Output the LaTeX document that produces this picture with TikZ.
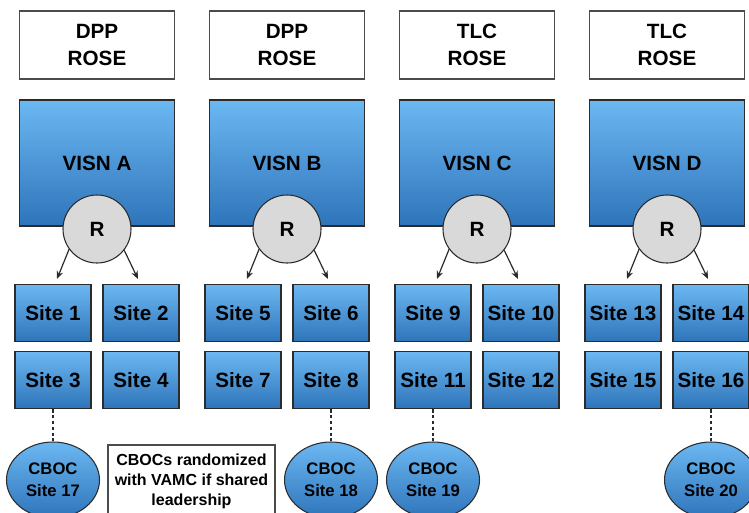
\documentclass[tikz,border=0pt]{standalone}
\usepackage{fontspec}
\setmainfont{Liberation Sans}
\usetikzlibrary{shapes.geometric,arrows.meta}

\definecolor{boxtop}{HTML}{6CB8F2}
\definecolor{boxbot}{HTML}{2E74BA}
\definecolor{rgray}{HTML}{D9D9D9}
\definecolor{edgegray}{HTML}{2B2B2B}

\tikzset{
  rosebox/.style={draw=edgegray!85, line width=0.9pt, fill=white, minimum width=116.25pt, minimum height=51pt, align=center, font=\fontsize{15.5}{20}\selectfont\bfseries},
  visnbox/.style={draw=edgegray, line width=0.8pt, top color=boxtop, bottom color=boxbot, minimum width=116.25pt, minimum height=94.5pt, font=\fontsize{15.5}{20}\selectfont\bfseries},
  rnode/.style={circle, draw=edgegray, line width=0.8pt, fill=rgray, minimum size=51pt, inner sep=0pt, font=\fontsize{15.5}{20}\selectfont\bfseries},
  sitebox/.style={draw=edgegray, line width=0.8pt, top color=boxtop, bottom color=boxbot, minimum width=57pt, minimum height=42.75pt, inner sep=0pt, font=\fontsize{15.5}{20}\selectfont\bfseries},
  cboc/.style={ellipse, draw=edgegray, line width=0.8pt, top color=boxtop, bottom color=boxbot, minimum width=69.75pt, minimum height=57pt, inner sep=0pt, align=center, font=\fontsize{12.5}{16.3}\selectfont\bfseries},
  notebox/.style={draw=edgegray!85, line width=0.8pt, fill=white, minimum width=125.25pt, minimum height=54pt, align=center, font=\fontsize{12}{15}\selectfont\bfseries},
  randarrow/.style={-{Stealth[length=6pt,width=5pt]}, line width=0.9pt, draw=edgegray},
  dotlink/.style={line width=1.6pt, dash pattern=on 2.6pt off 1.8pt, draw=edgegray},
}

\begin{document}
\begin{tikzpicture}[x=0.75pt, y=-0.75pt]
  \useasboundingbox (0,0) rectangle (749,512);
  \clip (0,0) rectangle (749,512);

  % top row
  \node[rosebox] (roseA) at (97,45) {DPP\\ROSE};
  \node[rosebox] (roseB) at (287,45) {DPP\\ROSE};
  \node[rosebox] (roseC) at (477,45) {TLC\\ROSE};
  \node[rosebox] (roseD) at (667,45) {TLC\\ROSE};

  % networks
  \node[visnbox] (visnA) at (97,163) {VISN A};
  \node[visnbox] (visnB) at (287,163) {VISN B};
  \node[visnbox] (visnC) at (477,163) {VISN C};
  \node[visnbox] (visnD) at (667,163) {VISN D};

  \node[rnode] (rA) at (97,229) {R};
  \node[rnode] (rB) at (287,229) {R};
  \node[rnode] (rC) at (477,229) {R};
  \node[rnode] (rD) at (667,229) {R};

  % sites
  \node[sitebox] (s1) at (53,313) {Site 1};
  \node[sitebox] (s2) at (141,313) {Site 2};
  \node[sitebox] (s3) at (53,380) {Site 3};
  \node[sitebox] (s4) at (141,380) {Site 4};
  \node[sitebox] (s5) at (243,313) {Site 5};
  \node[sitebox] (s6) at (331,313) {Site 6};
  \node[sitebox] (s7) at (243,380) {Site 7};
  \node[sitebox] (s8) at (331,380) {Site 8};
  \node[sitebox] (s9) at (433,313) {Site 9};
  \node[sitebox] (s10) at (521,313) {Site 10};
  \node[sitebox] (s11) at (433,380) {Site 11};
  \node[sitebox] (s12) at (521,380) {Site 12};
  \node[sitebox] (s13) at (623,313) {Site 13};
  \node[sitebox] (s14) at (711,313) {Site 14};
  \node[sitebox] (s15) at (623,380) {Site 15};
  \node[sitebox] (s16) at (711,380) {Site 16};

  % randomization arrows
  \draw[randarrow] (rA.216) -- ([xshift=3pt,yshift=3.75pt]s1.north);
  \draw[randarrow] (rA.322) -- ([xshift=-2.25pt,yshift=3.75pt]s2.north);
  \draw[randarrow] (rB.216) -- ([xshift=3pt,yshift=3.75pt]s5.north);
  \draw[randarrow] (rB.322) -- ([xshift=-2.25pt,yshift=3.75pt]s6.north);
  \draw[randarrow] (rC.216) -- ([xshift=3pt,yshift=3.75pt]s9.north);
  \draw[randarrow] (rC.322) -- ([xshift=-2.25pt,yshift=3.75pt]s10.north);
  \draw[randarrow] (rD.216) -- ([xshift=3pt,yshift=3.75pt]s13.north);
  \draw[randarrow] (rD.322) -- ([xshift=-2.25pt,yshift=3.75pt]s14.north);

  % community clinics
  \node[cboc] (c17) at (53,480) {CBOC\\Site 17};
  \node[cboc] (c18) at (331,480) {CBOC\\Site 18};
  \node[cboc] (c19) at (433,480) {CBOC\\Site 19};
  \node[cboc] (c20) at (711,480) {CBOC\\Site 20};

  \draw[dotlink] (s3) -- (c17);
  \draw[dotlink] (s8) -- (c18);
  \draw[dotlink] (s11) -- (c19);
  \draw[dotlink] (s16) -- (c20);

  \node[notebox] (note) at (191.5,481) {CBOCs randomized\\with VAMC if shared\\leadership};
\end{tikzpicture}
\end{document}
